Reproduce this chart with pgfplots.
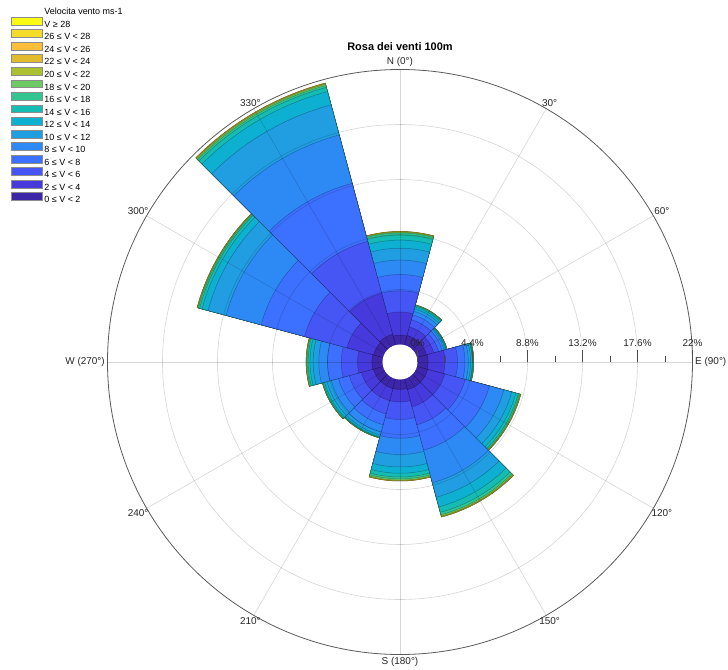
\documentclass[border=0pt]{standalone}
\usepackage{pgfplots}
\pgfplotsset{compat=1.18}
\usepackage{pgfplotstable}
\usepackage{fontspec}
\setmainfont{Liberation Sans}

\definecolor{w1}{RGB}{62,38,168}
\definecolor{w2}{RGB}{70,58,220}
\definecolor{w3}{RGB}{70,86,245}
\definecolor{w4}{RGB}{60,112,254}
\definecolor{w5}{RGB}{45,138,245}
\definecolor{w6}{RGB}{33,158,226}
\definecolor{w7}{RGB}{14,176,209}
\definecolor{w8}{RGB}{20,188,180}
\definecolor{w9}{RGB}{50,197,145}
\definecolor{w10}{RGB}{110,203,100}
\definecolor{w11}{RGB}{172,193,48}
\definecolor{w12}{RGB}{225,186,45}
\definecolor{w13}{RGB}{253,190,60}
\definecolor{w14}{RGB}{245,220,42}
\definecolor{w15}{RGB}{249,251,20}

% cumulative frequency (%) per direction sector, up to each speed class
\pgfplotstableread{
dir c1   c2   c3   c4   c5   c6    c7    c8    c9    c10   c11   c12   c13   c14   c15
0   0.75 2.6  4.3  5.6  6.75 7.7   8.35  8.75  8.92  8.98  9.02  9.04  9.04  9.04  9.04
30  0.8  1.5  2.1  2.5  2.8  3.0   3.15  3.25  3.3   3.32  3.33  3.33  3.33  3.33  3.33
60  0.8  1.4  1.8  2.1  2.25 2.35  2.42  2.46  2.48  2.49  2.5   2.5   2.5   2.5   2.5
90  0.85 2.2  3.2  3.8  4.07 4.25  4.38  4.44  4.47  4.49  4.5   4.5   4.5   4.5   4.5
120 0.9  2.3  4.0  6.0  7.2  7.85  8.2   8.4   8.5   8.55  8.58  8.6   8.6   8.6   8.6
150 0.9  2.3  3.8  5.9  8.6  9.8   10.6  11.05 11.25 11.35 11.4  11.43 11.44 11.44 11.44
180 0.8  1.8  3.2  4.7  6.0  7.0   7.5   7.8   7.95  8.05  8.1   8.12  8.12  8.12  8.12
210 0.8  1.8  2.9  3.8  4.4  4.65  4.78  4.83  4.86  4.88  4.89  4.89  4.89  4.89  4.89
240 0.8  1.8  2.8  3.7  4.3  4.65  4.85  4.95  5.0   5.02  5.03  5.03  5.03  5.03  5.03
270 0.85 2.0  3.3  4.4  5.1  5.55  5.8   5.95  6.03  6.08  6.1   6.11  6.11  6.11  6.11
300 0.8  3.0  6.5  10.1 13.0 14.5  15.0  15.2  15.3  15.35 15.38 15.4  15.4  15.4  15.4
330 0.9  4.3  8.6  13.4 17.4 19.9  21.0  21.35 21.5  21.6  21.66 21.69 21.7  21.7  21.7
}\rosedata

% wedge mark: drawn from the rose centre to the data point (outer radius)
\pgfdeclareplotmark{rosewedge}{%
  \pgfmathsetmacro\rwR{(\rosecum+1.4)*12.5}%
  \pgfmathsetmacro\rwT{90-\rosedir}%
  \pgfmathsetmacro\rwBack{\rwT+180}%
  \pgfmathsetmacro\rwA{\rwT-15}%
  \pgfmathsetmacro\rwB{\rwT+15}%
  \pgftransformshift{\pgfpointpolar{\rwBack}{\rwR bp}}%
  \pgfpathmoveto{\pgfpointorigin}%
  \pgfpathlineto{\pgfpointpolar{\rwA}{\rwR bp}}%
  \pgfpatharc{\rwA}{\rwB}{\rwR bp}%
  \pgfpathclose
  \pgfusepathqfillstroke
}

\pgfplotsset{
  rosebin/.style 2 args={only marks, mark=rosewedge, data cs=polar,
    mark options={fill=#1, draw=black, draw opacity=0.3, line width=0.5bp},
    visualization depends on={\thisrow{dir}\as\rosedir},
    visualization depends on={\thisrow{#2}\as\rosecum},
    legend image code/.code={\draw[fill=#1, draw=black!45, line width=0.4bp] (0bp,-0.5bp) rectangle (31bp,7.3bp);}},
}

\begin{document}
\begin{tikzpicture}
\useasboundingbox (-400bp,-308bp) rectangle (328bp,362bp);
\begin{axis}[
  at={(0,0)}, anchor=origin,
  x=12.5bp, y=12.5bp,
  xmin=-25, xmax=25, ymin=-25, ymax=25,
  hide axis, clip=false,
  legend cell align=left,
  legend style={at={(axis cs:-31.12,28.52)}, anchor=north west, draw=none, fill=none,
    inner sep=0pt, outer sep=0pt, font=\fontsize{9}{10}\selectfont, row sep=-1.2bp,
    nodes={inner xsep=2bp, inner ysep=0pt, text height=9.25bp, text depth=3.25bp}},
]
\addlegendimage{empty legend}
\addlegendentry{Velocita vento ms-1}
\addplot[rosebin={w15}{c15}] table[x expr=90-\thisrow{dir}, y expr=\thisrow{c15}+1.4] {\rosedata};
\addlegendentry{V ≥ 28}
\addplot[rosebin={w14}{c14}] table[x expr=90-\thisrow{dir}, y expr=\thisrow{c14}+1.4] {\rosedata};
\addlegendentry{26 ≤ V < 28}
\addplot[rosebin={w13}{c13}] table[x expr=90-\thisrow{dir}, y expr=\thisrow{c13}+1.4] {\rosedata};
\addlegendentry{24 ≤ V < 26}
\addplot[rosebin={w12}{c12}] table[x expr=90-\thisrow{dir}, y expr=\thisrow{c12}+1.4] {\rosedata};
\addlegendentry{22 ≤ V < 24}
\addplot[rosebin={w11}{c11}] table[x expr=90-\thisrow{dir}, y expr=\thisrow{c11}+1.4] {\rosedata};
\addlegendentry{20 ≤ V < 22}
\addplot[rosebin={w10}{c10}] table[x expr=90-\thisrow{dir}, y expr=\thisrow{c10}+1.4] {\rosedata};
\addlegendentry{18 ≤ V < 20}
\addplot[rosebin={w9}{c9}] table[x expr=90-\thisrow{dir}, y expr=\thisrow{c9}+1.4] {\rosedata};
\addlegendentry{16 ≤ V < 18}
\addplot[rosebin={w8}{c8}] table[x expr=90-\thisrow{dir}, y expr=\thisrow{c8}+1.4] {\rosedata};
\addlegendentry{14 ≤ V < 16}
\addplot[rosebin={w7}{c7}] table[x expr=90-\thisrow{dir}, y expr=\thisrow{c7}+1.4] {\rosedata};
\addlegendentry{12 ≤ V < 14}
\addplot[rosebin={w6}{c6}] table[x expr=90-\thisrow{dir}, y expr=\thisrow{c6}+1.4] {\rosedata};
\addlegendentry{10 ≤ V < 12}
\addplot[rosebin={w5}{c5}] table[x expr=90-\thisrow{dir}, y expr=\thisrow{c5}+1.4] {\rosedata};
\addlegendentry{8 ≤ V < 10}
\addplot[rosebin={w4}{c4}] table[x expr=90-\thisrow{dir}, y expr=\thisrow{c4}+1.4] {\rosedata};
\addlegendentry{6 ≤ V < 8}
\addplot[rosebin={w3}{c3}] table[x expr=90-\thisrow{dir}, y expr=\thisrow{c3}+1.4] {\rosedata};
\addlegendentry{4 ≤ V < 6}
\addplot[rosebin={w2}{c2}] table[x expr=90-\thisrow{dir}, y expr=\thisrow{c2}+1.4] {\rosedata};
\addlegendentry{2 ≤ V < 4}
\addplot[rosebin={w1}{c1}] table[x expr=90-\thisrow{dir}, y expr=\thisrow{c1}+1.4] {\rosedata};
\addlegendentry{0 ≤ V < 2}
\end{axis}
% centre hole
\fill[white] (0,0) circle[radius=17.5bp];
% grid circles and spokes (drawn over the bars)
\foreach \rr in {72.5,127.5,182.5,237.5}
  \draw[black, opacity=0.16, line width=0.6bp] (0,0) circle[radius=\rr bp];
\foreach \a in {0,30,...,330}
  \draw[black, opacity=0.16, line width=0.6bp] (\a:17.5bp) -- (\a:292.5bp);
\draw[black!65, line width=0.8bp] (0,0) circle[radius=292.5bp];
% radial ticks
\foreach \tx in {17.5,72.5,127.5,182.5,237.5,292.5}
  \draw[black!70, line width=0.6bp] (\tx bp,0) -- ++(0,12bp);
\foreach \tx in {45,100,155,210,265}
  \draw[black!70, line width=0.6bp] (\tx bp,0) -- ++(0,6bp);
\foreach \r/\l in {17.5/0\%,72.5/4.4\%,127.5/8.8\%,182.5/13.2\%,237.5/17.6\%,292.5/22\%}
  \node[font=\fontsize{10}{12}\selectfont, text=black!85, inner sep=0pt] at (\r bp,19bp) {\l};
% angle labels
\foreach \d/\t/\an in {0/N (0°)/270, 30/30°/240, 60/60°/210, 90/E (90°)/180, 120/120°/150, 150/150°/120,
    180/S (180°)/90, 210/210°/60, 240/240°/30, 270/W (270°)/0, 300/300°/330, 330/330°/300}
  \node[font=\fontsize{10}{12}\selectfont, text=black!85, inner sep=0pt, anchor=\an] at ({90-\d}:295bp) {\t};
% title
\node[font=\bfseries\fontsize{11}{13}\selectfont] at (0,315bp) {Rosa dei venti 100m};
\end{tikzpicture}
\end{document}
